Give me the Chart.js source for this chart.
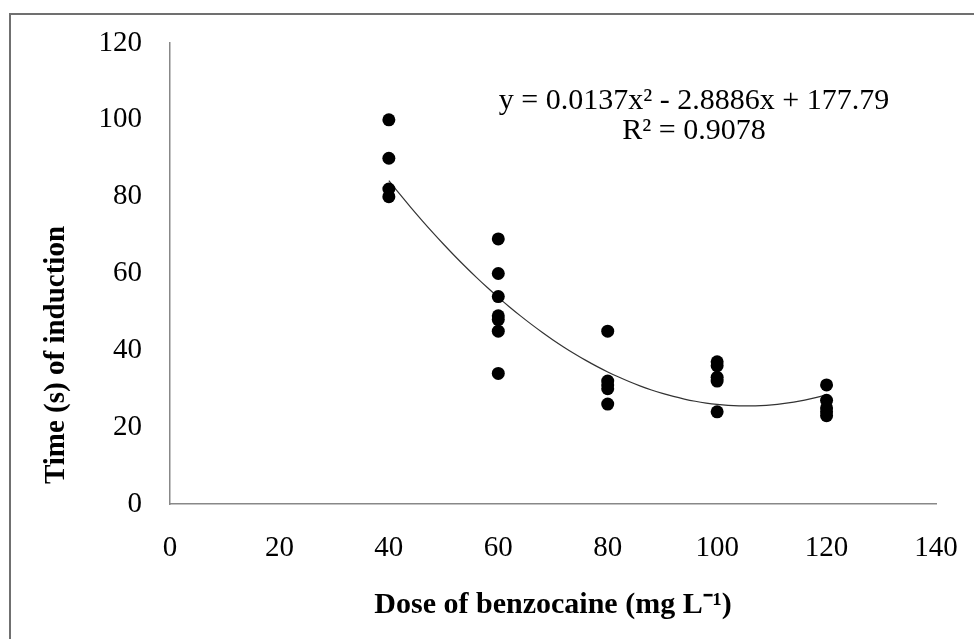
<!DOCTYPE html>
<html>
<head>
<meta charset="utf-8">
<script src="https://cdn.jsdelivr.net/npm/chart.js@4/dist/chart.umd.min.js"></script>
<style>
  html, body { margin: 0; padding: 0; background: #fff; overflow: hidden; }
  #wrap { position: relative; width: 974px; height: 639px; }
  #frame {
    position: absolute; left: 9px; top: 13px; width: 1000px; height: 700px;
    border-top: 2px solid #707070; border-left: 2px solid #707070;
  }
  #chart { position: absolute; left: 0; top: 0; }
</style>
</head>
<body>
<div id="wrap">
  <div id="frame"></div>
  <canvas id="chart" width="974" height="639"></canvas>
</div>
<script>
// dosis (mg/L) y tiempos de inducción
const doses = [40, 60, 80, 100, 120];
const time40 = [100, 90, 82, 80];
const time60 = [69, 60, 54, 49, 48, 45, 34];
const time80 = [45, 32, 31, 30, 26];
const time100 = [37, 36, 33, 32, 24];
const time120 = [31, 27, 25, 24, 23];

// línea de tendencia polinómica (coeficientes de la ecuación del gráfico)
const trendCoef = [0.0137, -2.8886, 177.79];
const trendRange = [40, 120];
const eqLine1 = 'y = 0.0137x\u00B2 - 2.8886x + 177.79';
const eqLine2 = 'R\u00B2 = 0.9078';

const xTicks = [0, 20, 40, 60, 80, 100, 120, 140];
const yTicks = [0, 20, 40, 60, 80, 100, 120];

const SERIF = '"Liberation Serif", "Times New Roman", serif';

const groups = [time40, time60, time80, time100, time120];
const points = [];
groups.forEach((g, i) => g.forEach(v => points.push({ x: doses[i], y: v })));

const trend = [];
for (let x = trendRange[0]; x <= trendRange[1]; x += 2) {
  trend.push({ x: x, y: trendCoef[0] * x * x + trendCoef[1] * x + trendCoef[2] });
}

// texto extra: ecuación y título del eje Y
const extraText = {
  id: 'extraText',
  afterDraw(chart) {
    const c = chart.ctx;
    c.save();
    c.fillStyle = '#000';
    c.font = '30px ' + SERIF;
    c.textAlign = 'center';
    c.textBaseline = 'alphabetic';
    c.fillText(eqLine1, 694, 109);
    c.fillText(eqLine2, 694, 139);
    c.font = 'bold 29px ' + SERIF;
    c.translate(57, 355);
    c.rotate(-Math.PI / 2);
    c.textAlign = 'center';
    c.textBaseline = 'middle';
    c.fillText('Time (s) of induction', 0, 0);
    c.restore();
  }
};

// marcas invisibles: sirven de separación entre eje y etiquetas
const hiddenGrid = len => ({
  display: true, drawOnChartArea: false, drawTicks: true,
  tickLength: len, tickColor: 'rgba(0,0,0,0)'
});

new Chart(document.getElementById('chart').getContext('2d'), {
  type: 'scatter',
  data: {
    datasets: [
      {
        label: 'data',
        data: points,
        backgroundColor: '#000',
        borderColor: '#000',
        pointRadius: 6.5,
        pointBorderWidth: 0
      },
      {
        label: 'trend',
        data: trend,
        showLine: true,
        borderColor: '#333',
        borderWidth: 1.2,
        pointRadius: 0,
        tension: 0.4,
        fill: false
      }
    ]
  },
  options: {
    responsive: false,
    animation: false,
    layout: { padding: { left: 10, top: 43, right: 38, bottom: 0 } },
    plugins: {
      legend: { display: false },
      tooltip: { enabled: false }
    },
    scales: {
      x: {
        type: 'linear',
        min: 0, max: 140,
        afterFit: s => { s.height = 135; },
        afterBuildTicks: s => { s.ticks = xTicks.map(v => ({ value: v })); },
        grid: hiddenGrid(27),
        border: { display: true, color: '#888', width: 1.5 },
        ticks: { color: '#000', padding: 0, font: { family: SERIF, size: 29 } },
        title: {
          display: true,
          text: 'Dose of benzocaine (mg L\u207B\u00B9)',
          color: '#000',
          font: { family: SERIF, size: 30, weight: 'bold' },
          padding: { top: 0, bottom: 16 }
        }
      },
      y: {
        type: 'linear',
        min: 0, max: 120,
        afterFit: s => { s.width = 160; },
        afterBuildTicks: s => { s.ticks = yTicks.map(v => ({ value: v })); },
        grid: hiddenGrid(28),
        border: { display: true, color: '#888', width: 1.5 },
        ticks: { color: '#000', padding: 0, font: { family: SERIF, size: 29 } }
      }
    }
  },
  plugins: [extraText]
});
</script>
</body>
</html>
